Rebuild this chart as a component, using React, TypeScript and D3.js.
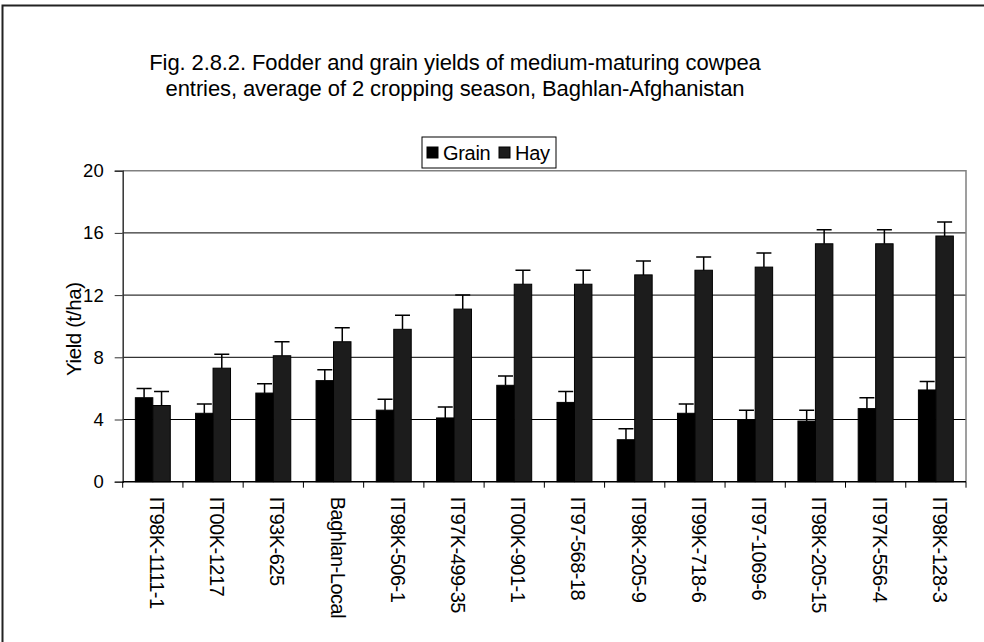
import { useEffect, useRef } from "react";
import * as d3 from "d3";

const entries = [
  "IT98K-1111-1",
  "IT00K-1217",
  "IT93K-625",
  "Baghlan-Local",
  "IT98K-506-1",
  "IT97K-499-35",
  "IT00K-901-1",
  "IT97-568-18",
  "IT98K-205-9",
  "IT99K-718-6",
  "IT97-1069-6",
  "IT98K-205-15",
  "IT97K-556-4",
  "IT98K-128-3",
];
const grain = [5.4, 4.4, 5.7, 6.5, 4.6, 4.1, 6.2, 5.1, 2.7, 4.4, 4.0, 3.9, 4.7, 5.9];
const grainErr = [0.6, 0.6, 0.6, 0.7, 0.7, 0.7, 0.6, 0.7, 0.7, 0.6, 0.6, 0.7, 0.7, 0.55];
const hay = [4.9, 7.3, 8.1, 9.0, 9.8, 11.1, 12.7, 12.7, 13.3, 13.6, 13.8, 15.3, 15.3, 15.8];
const hayErr = [0.9, 0.9, 0.9, 0.9, 0.9, 0.9, 0.9, 0.9, 0.9, 0.85, 0.9, 0.9, 0.9, 0.9];
const yTicks = [0, 4, 8, 12, 16, 20];
const seriesNames = ["Grain", "Hay"];
const seriesColors = ["#000000", "#1c1c1c"];

const W = 984;
const H = 642;
const font = "Arial, 'Liberation Sans', sans-serif";

const App = () => {
  const svgRef = useRef<SVGSVGElement>(null);

  useEffect(() => {
    const svg = d3.select(svgRef.current);
    svg.selectAll("*").remove();

    const left = 122.7;
    const right = 966;
    const top = 170.7;
    const bottom = 481.7;

    // outer chart frame (runs off the picture on the right and bottom)
    svg
      .append("rect")
      .attr("x", 2.5)
      .attr("y", 5.5)
      .attr("width", 1100)
      .attr("height", 800)
      .attr("fill", "#fff")
      .attr("stroke", "#222")
      .attr("stroke-width", 2);

    // title
    const title = svg
      .append("text")
      .attr("text-anchor", "middle")
      .attr("font-family", font)
      .attr("font-size", 22)
      .attr("letter-spacing", -0.1)
      .attr("fill", "#000");
    title.append("tspan").attr("x", 455).attr("y", 70).text("Fig. 2.8.2. Fodder and grain yields of medium-maturing cowpea");
    title.append("tspan").attr("x", 455).attr("y", 95.5).text("entries, average of 2 cropping season, Baghlan-Afghanistan");

    const x = d3.scaleBand().domain(entries).range([left, right]).paddingInner(0.42).paddingOuter(0.21);
    const xs = d3.scaleBand().domain(seriesNames).range([0, x.bandwidth()]);
    const y = d3.scaleLinear().domain([0, 20]).range([bottom, top]);

    // gridlines
    svg
      .append("g")
      .selectAll("line")
      .data(yTicks.filter((t) => t > 0 && t < 20))
      .join("line")
      .attr("x1", left)
      .attr("x2", right)
      .attr("y1", (d) => y(d))
      .attr("y2", (d) => y(d))
      .attr("stroke", "#000")
      .attr("stroke-width", 1);

    // plot area border top + right
    svg
      .append("path")
      .attr("d", `M${left},${y(20)}H${right}V${bottom}`)
      .attr("fill", "none")
      .attr("stroke", "#808080")
      .attr("stroke-width", 1.5);

    const series = [
      { name: "Grain", values: grain, errs: grainErr, color: seriesColors[0] },
      { name: "Hay", values: hay, errs: hayErr, color: seriesColors[1] },
    ];

    series.forEach((s) => {
      const g = svg.append("g");
      g.selectAll("rect")
        .data(s.values)
        .join("rect")
        .attr("x", (_, i) => (x(entries[i]) ?? 0) + (xs(s.name) ?? 0))
        .attr("y", (d) => y(d))
        .attr("width", xs.bandwidth())
        .attr("height", (d) => y(0) - y(d))
        .attr("fill", s.color)
        .attr("stroke", "#000")
        .attr("stroke-width", 1);

      // error bars
      const cx = (i: number) => (x(entries[i]) ?? 0) + (xs(s.name) ?? 0) + xs.bandwidth() / 2;
      g.selectAll("path.err")
        .data(s.values)
        .join("path")
        .attr("class", "err")
        .attr(
          "d",
          (d, i) =>
            `M${cx(i)},${y(d)}V${y(d + s.errs[i])}M${cx(i) - 7.5},${y(d + s.errs[i])}H${cx(i) + 7.5}`
        )
        .attr("fill", "none")
        .attr("stroke", "#000")
        .attr("stroke-width", 1.5);
    });

    // y axis
    const yAxis = svg
      .append("g")
      .attr("transform", `translate(${left},0)`)
      .call(d3.axisLeft(y).tickValues(yTicks).tickSize(8).tickPadding(11).tickFormat(d3.format("d")));
    yAxis.select(".domain").attr("stroke", "#333").attr("stroke-width", 1.5);
    yAxis.selectAll(".tick line").attr("stroke", "#333");
    yAxis.selectAll("text").attr("font-family", font).attr("font-size", 18.5).attr("fill", "#000");

    // x axis, ticks between categories
    const bounds = d3.range(entries.length + 1).map((i) => left + (i * (right - left)) / entries.length);
    svg
      .append("line")
      .attr("x1", left)
      .attr("x2", right)
      .attr("y1", bottom)
      .attr("y2", bottom)
      .attr("stroke", "#000")
      .attr("stroke-width", 1.5);
    svg
      .append("g")
      .selectAll("line")
      .data(bounds)
      .join("line")
      .attr("x1", (d) => d)
      .attr("x2", (d) => d)
      .attr("y1", bottom)
      .attr("y2", bottom + 6)
      .attr("stroke", "#000");

    svg
      .append("g")
      .selectAll("text")
      .data(entries)
      .join("text")
      .attr("transform", (d) => `translate(${(x(d) ?? 0) + x.bandwidth() / 2 + 4},${bottom + 15}) rotate(90)`)
      .attr("dy", "0.35em")
      .attr("font-family", font)
      .attr("font-size", 20)
      .attr("letter-spacing", -0.5)
      .attr("fill", "#000")
      .text((d) => d);

    // y label
    svg
      .append("text")
      .attr("transform", `translate(${74},${(top + bottom) / 2 + 3}) rotate(-90)`)
      .attr("text-anchor", "middle")
      .attr("dy", "0.35em")
      .attr("font-family", font)
      .attr("font-size", 20.5)
      .attr("letter-spacing", -0.4)
      .attr("fill", "#000")
      .text("Yield (t/ha)");

    // legend
    const lg = svg.append("g").attr("transform", "translate(422,137)");
    lg.append("rect")
      .attr("width", 134)
      .attr("height", 31)
      .attr("fill", "#fff")
      .attr("stroke", "#000")
      .attr("stroke-width", 1);
    const items = [
      { name: seriesNames[0], color: seriesColors[0], dx: 5 },
      { name: seriesNames[1], color: seriesColors[1], dx: 77 },
    ];
    items.forEach((it) => {
      lg.append("rect")
        .attr("x", it.dx)
        .attr("y", 10)
        .attr("width", 11)
        .attr("height", 11)
        .attr("fill", it.color)
        .attr("stroke", "#000");
      lg.append("text")
        .attr("x", it.dx + 16)
        .attr("y", 16)
        .attr("dy", "0.35em")
        .attr("font-family", font)
        .attr("font-size", 20)
        .attr("letter-spacing", -0.3)
        .attr("fill", "#000")
        .text(it.name);
    });
  }, []);

  return (
    <div style={{ position: "absolute", left: 0, top: 0 }}>
      <svg ref={svgRef} width={W} height={H} style={{ display: "block" }}></svg>
    </div>
  );
};

export default App;
